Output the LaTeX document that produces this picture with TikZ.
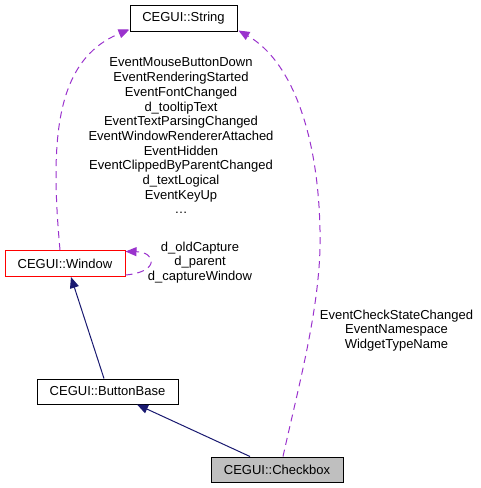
\documentclass[tikz,border=0pt]{standalone}
\usepackage{fontspec}
\setmainfont{Liberation Sans}
\usetikzlibrary{arrows.meta,calc}
\definecolor{purp}{HTML}{9A32CD}
\definecolor{navy}{HTML}{191970}
\definecolor{cbgray}{HTML}{BFBFBF}
\begin{document}
\begin{tikzpicture}[x=1pt,y=1pt,
  every node/.style={font=\fontsize{13}{14.7}\selectfont, text=black},
  cls/.style={draw=black, line width=1pt, inner sep=0pt, minimum height=26pt, fill=white},
  usage/.style={draw=purp, line width=1pt, dash pattern=on 7pt off 5pt, -{Triangle[length=11pt,width=9pt]}},
  inh/.style={draw=navy, line width=1pt, -{Triangle[length=11pt,width=9pt]}},
  lbl/.style={align=center, inner sep=0pt}]
\useasboundingbox (0,0) rectangle (480,-488);
\node[cls, minimum width=107pt] (str) at (183.5,-18) {CEGUI::String};
\node[cls, draw=red, minimum width=120pt] (win) at (65,-263.5) {CEGUI::Window};
\node[cls, minimum width=141pt, minimum height=25pt] (bb) at (107.5,-391.5) {CEGUI::ButtonBase};
\node[cls, fill=cbgray, minimum width=132pt, minimum height=25pt] (cb) at (277,-469.5) {CEGUI::Checkbox};
% labels
\node[lbl] (l1) at (181,-136) {EventMouseButtonDown\\EventRenderingStarted\\EventFontChanged\\d\_tooltipText\\EventTextParsingChanged\\EventWindowRendererAttached\\EventHidden\\EventClippedByParentChanged\\d\_textLogical\\EventKeyUp\\\dots};
\node[lbl] (l2) at (200,-262.5) {d\_oldCapture\\d\_parent\\d\_captureWindow};
\node[lbl] (l3) at (396.5,-330.5) {EventCheckStateChanged\\EventNamespace\\WidgetTypeName};
% edges
\coordinate (ws) at ($(win.north)+(-5,0)$);
\coordinate (ss) at ($(str.south west)+(0,2)$);
\draw[usage] (ws) .. controls (50,-140) and (55,-60) .. (ss);
\coordinate (cs) at ($(cb.north)+(6,0)$);
\coordinate (se) at ($(str.south east)+(1,1)$);
\coordinate (mid) at (320,-230);
\draw[usage] (cs) .. controls (300,-380) and (322,-300) .. (mid) .. controls (318,-130) and (290,-60) .. (se);
\coordinate (wa) at ($(win.south east)+(0,2)$);
\coordinate (wb) at ($(win.north east)+(0,-1.5)$);
\draw[usage] (wa) .. controls (160,-272) and (156,-252) .. (wb);
\draw[inh] ($(bb.north)+(-3.5,0)$) -- ($(win.south)+(6,0)$);
\draw[inh] ($(cb.north)+(-27,0)$) -- ($(bb.south)+(29.5,0)$);
\end{tikzpicture}
\end{document}
